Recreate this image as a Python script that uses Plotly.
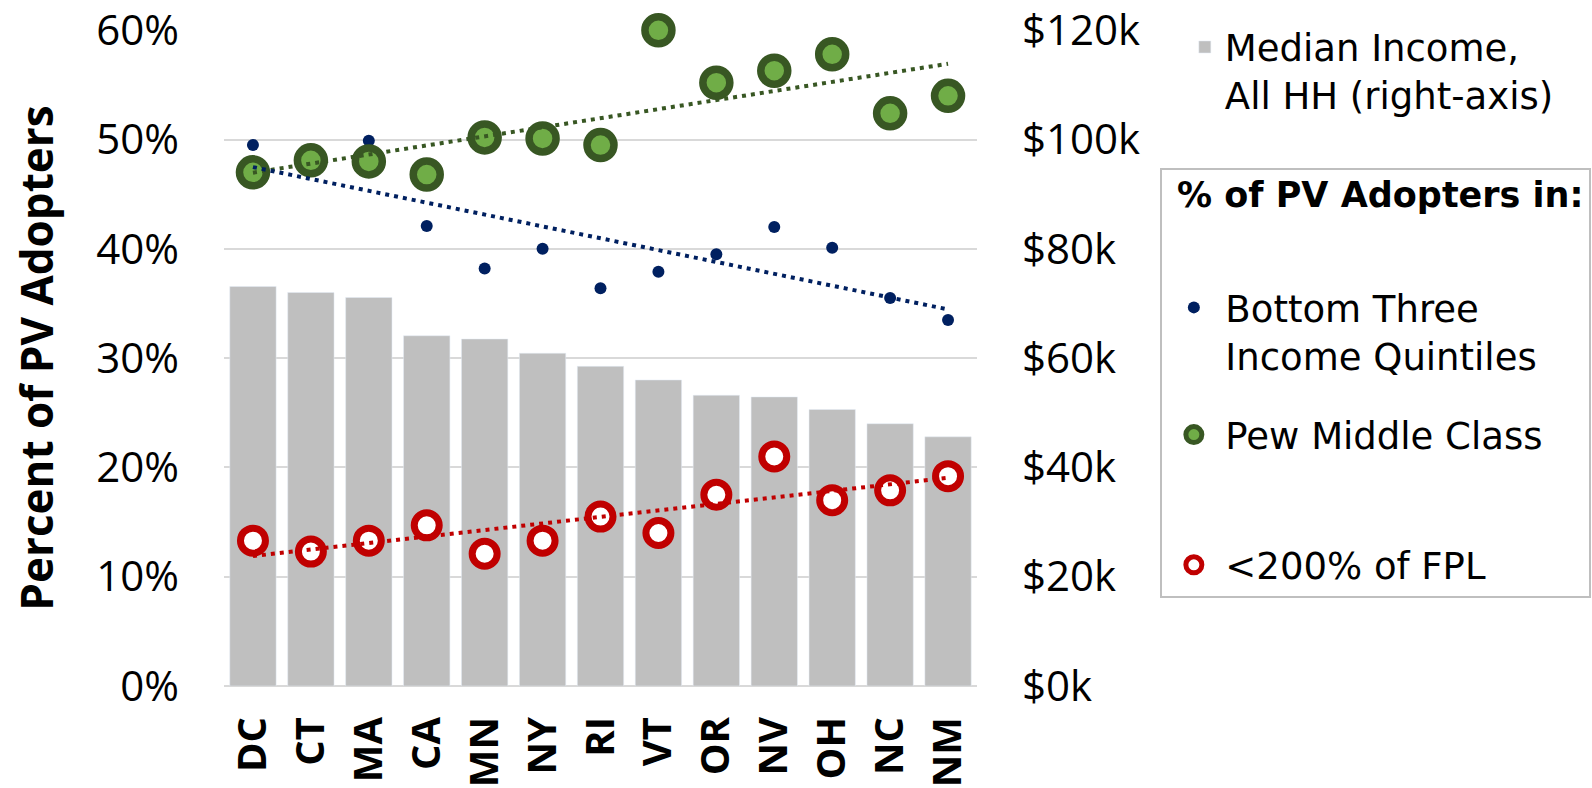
import numpy as np
import plotly.graph_objects as go

states = ["DC", "CT", "MA", "CA", "MN", "NY", "RI", "VT", "OR", "NV", "OH", "NC", "NM"]
# median household income, $k (right axis)
median_income_k = [73.1, 72.0, 71.1, 64.1, 63.5, 60.9, 58.5, 56.0, 53.2, 52.9, 50.6, 48.0, 45.6]
# share of PV adopters in each group
bottom_three = [0.495, 0.480, 0.499, 0.421, 0.382, 0.400, 0.364, 0.379, 0.395, 0.420, 0.401, 0.355, 0.335]
pew_middle = [0.470, 0.481, 0.480, 0.468, 0.502, 0.501, 0.495, 0.600, 0.552, 0.563, 0.578, 0.524, 0.540]
below_200_fpl = [0.133, 0.123, 0.133, 0.147, 0.121, 0.133, 0.155, 0.140, 0.175, 0.210, 0.170, 0.179, 0.192]

pct_ticks = [0, 0.1, 0.2, 0.3, 0.4, 0.5, 0.6]
income_ticks = [0, 20, 40, 60, 80, 100, 120]

BLUE = "#002060"
GREEN_FILL = "#70AD47"
GREEN_LINE = "#385723"
RED = "#C00000"
GREY = "#BFBFBF"

TICK_FONT = dict(family="Open Sans", size=42, color="black")
LEGEND_FONT = dict(family="DejaVu Sans", size=37, color="black")


def trend(values):
    idx = np.arange(len(values))
    coef = np.polyfit(idx, values, 1)
    return np.polyval(coef, idx)


fig = go.Figure()

# bars sit on the base axis so the scatter (overlay axis) is drawn above them
fig.add_trace(go.Bar(
    x=states, y=median_income_k, name="Median Income,<br>All HH (right-axis)",
    marker_color=GREY, yaxis="y", legend="legend",
))

# trailing nbsp widen the boxed legend so it reaches the right edge like the original
fig.add_trace(go.Scatter(
    x=states, y=bottom_three, mode="markers",
    name="Bottom Three<br>Income Quintiles" + "&nbsp;" * 4,
    marker=dict(color=BLUE, size=12), yaxis="y2", cliponaxis=False,
    legend="legend2", legendgroup="a",
    legendgrouptitle=dict(text=" ", font=dict(size=80)),  # room for the box heading
))
fig.add_trace(go.Scatter(
    x=states, y=pew_middle, mode="markers", name="Pew Middle Class",
    marker=dict(color=GREEN_FILL, size=27, line=dict(color=GREEN_LINE, width=7.5)),
    yaxis="y2", cliponaxis=False, legend="legend2", legendgroup="b",
))
fig.add_trace(go.Scatter(
    x=states, y=below_200_fpl, mode="markers", name="<200% of FPL",
    marker=dict(color="white", size=25, line=dict(color=RED, width=7)),
    yaxis="y2", cliponaxis=False, legend="legend2", legendgroup="d",
    legendgrouptitle=dict(text=" ", font=dict(size=37)),
))

for vals, col in [(pew_middle, GREEN_LINE), (bottom_three, BLUE), (below_200_fpl, RED)]:
    fig.add_trace(go.Scatter(
        x=states, y=trend(vals), mode="lines", showlegend=False, hoverinfo="skip",
        line=dict(color=col, width=4, dash="4px,5px"), yaxis="y2",
    ))

fig.update_layout(
    width=1592, height=788,
    margin=dict(l=224, r=615, t=30, b=102, autoexpand=False),
    plot_bgcolor="white", paper_bgcolor="white",
    bargap=0.2,
    xaxis=dict(
        range=[-0.5, len(states) - 0.5],
        tickangle=-90, tickfont=dict(family="Open Sans", size=40, color="black", weight="bold"),
        showgrid=False, showline=False, ticks="", ticklabelstandoff=22,
    ),
    yaxis=dict(
        side="right", range=[0, 120.05], tickvals=income_ticks,
        ticktext=[f"${v}k" for v in income_ticks], ticklabeloverflow="allow",
        tickfont=TICK_FONT, showgrid=True, gridcolor="#D9D9D9", gridwidth=2,
        zeroline=True, zerolinecolor="#D9D9D9", zerolinewidth=2, ticklabelstandoff=44,
    ),
    yaxis2=dict(
        overlaying="y", side="left", range=[0, 0.60025], tickvals=pct_ticks, tickformat=".0%",
        ticklabeloverflow="allow",
        tickfont=TICK_FONT, showgrid=False, zeroline=False, ticklabelstandoff=44,
        title=dict(text="<b>Percent of PV Adopters</b>", standoff=28,
                   font=dict(family="Open Sans", size=44, color="black")),
    ),
    legend=dict(
        x=1.276, y=1.0207, xanchor="left", yanchor="top", font=LEGEND_FONT,
        bgcolor="rgba(0,0,0,0)", borderwidth=0, valign="top",
    ),
    legend2=dict(
        x=1.2435, y=0.7899, xanchor="left", yanchor="top", font=LEGEND_FONT,
        bordercolor="#BFBFBF", borderwidth=2, bgcolor="rgba(0,0,0,0)",
        tracegroupgap=28, traceorder="grouped", valign="top", itemwidth=53,
    ),
    annotations=[dict(
        text="<b>% of PV Adopters in:</b>", xref="paper", yref="paper",
        x=1.263, y=0.7485, xanchor="left", yanchor="middle", showarrow=False,
        font=dict(family="DejaVu Sans", size=35, color="black"),
    )],
)

# drop the browser's default body margin so the figure sits at the page origin
fig.write_html(
    "out.html",
    config={"displayModeBar": False},
    post_script="document.body.style.margin = '0';",
)
